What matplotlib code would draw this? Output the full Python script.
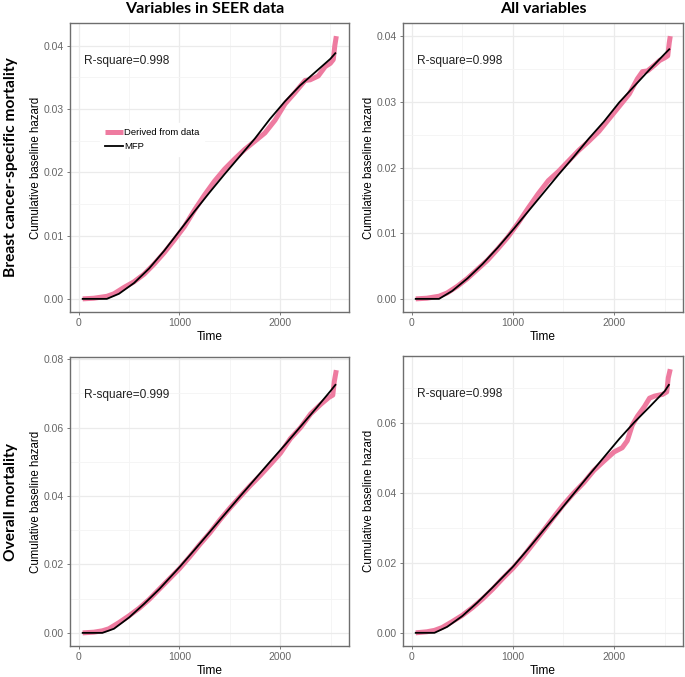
"""
Cumulative baseline hazard: derived from data vs MFP fit, 2x2 panels.
"""
import matplotlib
matplotlib.use("Agg")
import matplotlib.pyplot as plt
from matplotlib.ticker import MultipleLocator, FormatStrFormatter

# ---------------------------------------------------------------------------
# Data
# ---------------------------------------------------------------------------
COL_TITLES = ["Variables in SEER data", "All variables"]
ROW_TITLES = ["Breast cancer-specific mortality", "Overall mortality"]
R_SQUARE   = ["R-square=0.998", "R-square=0.998", "R-square=0.999", "R-square=0.998"]

# breast cancer-specific mortality, SEER variables
bs_fit_t = [40, 280, 400, 550, 700, 850, 1000, 1150, 1300, 1450, 1600, 1750,
            1900, 2050, 2200, 2350, 2500, 2550]
bs_fit_y = [0, 0, 0.0008, 0.0025, 0.0048, 0.0076, 0.0107, 0.0138, 0.0168,
            0.0197, 0.0225, 0.0253, 0.0284, 0.0312, 0.0337, 0.0358, 0.0379, 0.0388]
bs_obs_t = [40, 150, 280, 350, 450, 550, 650, 750, 850, 950, 1050, 1150, 1250,
            1350, 1450, 1550, 1650, 1750, 1850, 1950, 2050, 2150, 2250, 2300,
            2380, 2450, 2500, 2530, 2545, 2560]
bs_obs_y = [0, 0.0001, 0.0004, 0.0008, 0.0018, 0.0027, 0.0039, 0.0055, 0.0073,
            0.0093, 0.0114, 0.0140, 0.0164, 0.0186, 0.0205, 0.0221, 0.0236,
            0.0249, 0.0262, 0.0282, 0.0308, 0.0326, 0.0345, 0.0346, 0.0352,
            0.0367, 0.0372, 0.0378, 0.0400, 0.0415]

# breast cancer-specific mortality, all variables
ba_fit_t = [40, 270, 400, 550, 700, 850, 1000, 1150, 1300, 1450, 1600, 1750,
            1900, 2050, 2200, 2350, 2500, 2545]
ba_fit_y = [0, 0, 0.0012, 0.0031, 0.0053, 0.0078, 0.0105, 0.0133, 0.0161,
            0.0189, 0.0216, 0.0244, 0.0270, 0.0299, 0.0324, 0.0349, 0.0373, 0.0380]
ba_obs_t = [40, 150, 270, 350, 450, 550, 650, 750, 850, 950, 1050, 1150, 1250,
            1350, 1450, 1550, 1650, 1750, 1850, 1950, 2050, 2150, 2230, 2280,
            2330, 2400, 2450, 2500, 2530, 2545, 2555]
ba_obs_y = [0, 0.0001, 0.0004, 0.0009, 0.0019, 0.0031, 0.0045, 0.0059, 0.0076,
            0.0094, 0.0115, 0.0138, 0.0160, 0.0180, 0.0194, 0.0210, 0.0226,
            0.0240, 0.0255, 0.0274, 0.0293, 0.0312, 0.0335, 0.0346, 0.0347,
            0.0356, 0.0363, 0.0367, 0.0370, 0.0390, 0.0400]

# overall mortality, SEER variables
os_fit_t = [40, 235, 350, 500, 650, 800, 1000, 1150, 1300, 1450, 1600, 1750,
            1900, 2050, 2200, 2350, 2500, 2546]
os_fit_y = [0, 0, 0.0012, 0.0045, 0.0085, 0.0128, 0.0192, 0.0243, 0.0295,
            0.0347, 0.0399, 0.0450, 0.0501, 0.0551, 0.0603, 0.0655, 0.0708, 0.0725]
os_obs_t = [40, 150, 235, 300, 400, 500, 600, 700, 800, 900, 1000, 1100, 1200,
            1300, 1400, 1500, 1600, 1700, 1800, 1900, 2000, 2100, 2200, 2300,
            2400, 2480, 2520, 2535, 2555]
os_obs_y = [0, 0.0002, 0.0006, 0.0012, 0.0030, 0.0050, 0.0072, 0.0098, 0.0128,
            0.0158, 0.0188, 0.0222, 0.0258, 0.0292, 0.0330, 0.0365, 0.0398,
            0.0430, 0.0460, 0.0492, 0.0525, 0.0568, 0.0600, 0.0640, 0.0668,
            0.0688, 0.0695, 0.0735, 0.0768]

# overall mortality, all variables
oa_fit_t = [40, 225, 350, 500, 650, 800, 1000, 1150, 1300, 1450, 1600, 1750,
            1900, 2050, 2200, 2350, 2500, 2541]
oa_fit_y = [0, 0, 0.0017, 0.0048, 0.0087, 0.0130, 0.0189, 0.0240, 0.0293,
            0.0345, 0.0398, 0.0451, 0.0503, 0.0555, 0.0603, 0.0647, 0.0692, 0.0710]
oa_obs_t = [40, 150, 225, 300, 400, 500, 600, 700, 800, 900, 1000, 1100, 1200,
            1300, 1400, 1500, 1600, 1700, 1800, 1900, 2000, 2080, 2130, 2180,
            2230, 2300, 2350, 2400, 2480, 2520, 2535, 2555]
oa_obs_y = [0, 0.0003, 0.0007, 0.0015, 0.0032, 0.0050, 0.0072, 0.0097, 0.0125,
            0.0156, 0.0185, 0.0218, 0.0255, 0.0292, 0.0330, 0.0367, 0.0400,
            0.0430, 0.0465, 0.0492, 0.0518, 0.0530, 0.0550, 0.0595, 0.0620,
            0.0648, 0.0672, 0.0678, 0.0683, 0.0690, 0.0730, 0.0755]

PANELS = [
    (bs_obs_t, bs_obs_y, bs_fit_t, bs_fit_y),
    (ba_obs_t, ba_obs_y, ba_fit_t, ba_fit_y),
    (os_obs_t, os_obs_y, os_fit_t, os_fit_y),
    (oa_obs_t, oa_obs_y, oa_fit_t, oa_fit_y),
]
Y_STEP = [0.01, 0.01, 0.02, 0.02]

PINK   = "#EE7BA0"
GRID   = "#EBEBEB"
FRAME  = "#6E6E6E"
TICKC  = "#666666"

# axes boxes in pixels (left, top, right, bottom) on a 685x677 canvas
W, H = 685, 677
BOXES = [(70, 23, 349, 312), (403, 23, 683, 312),
         (70, 357, 349, 646), (403, 356, 683, 646)]

plt.rcParams["font.family"] = ["Liberation Sans", "DejaVu Sans"]

fig = plt.figure(figsize=(W / 100, H / 100), dpi=100)

for i, (obs_t, obs_y, fit_t, fit_y) in enumerate(PANELS):
    l, t, r, b = BOXES[i]
    ax = fig.add_axes([l / W, 1 - b / H, (r - l) / W, (b - t) / H])

    ax.plot(obs_t, obs_y, color=PINK, lw=3.6, solid_capstyle="butt",
            label="Derived from data", zorder=3)
    ax.plot(fit_t, fit_y, color="black", lw=1.3, label="MFP", zorder=4)
    ax.margins(x=0.05, y=0.05)

    ax.xaxis.set_major_locator(MultipleLocator(1000))
    ax.xaxis.set_minor_locator(MultipleLocator(500))
    ax.yaxis.set_major_locator(MultipleLocator(Y_STEP[i]))
    ax.yaxis.set_minor_locator(MultipleLocator(Y_STEP[i] / 2))
    ax.yaxis.set_major_formatter(FormatStrFormatter("%.2f"))
    ax.grid(True, which="major", color=GRID, lw=0.9, zorder=0)
    ax.grid(True, which="minor", color="#F4F4F4", lw=0.6, zorder=0)
    ax.set_axisbelow(True)

    for sp in ax.spines.values():
        sp.set_color(FRAME)
        sp.set_linewidth(1.0)
    ax.tick_params(which="major", length=2.5, width=0.6, color=TICKC,
                   labelsize=7.5, labelcolor=TICKC, pad=2)
    ax.tick_params(which="minor", length=0)

    ax.set_xlabel("Time", fontsize=8.6, labelpad=2)
    ax.set_ylabel("Cumulative baseline hazard", fontsize=8.3, labelpad=1)

    ax.text(0.05, 0.87, R_SQUARE[i], transform=ax.transAxes, fontsize=8.6,
            color="#222222", ha="left", va="center")

    if i == 0:
        leg = ax.legend(loc="upper left", bbox_to_anchor=(0.09, 0.67),
                        fontsize=6.8, frameon=True, handlelength=2.0,
                        handletextpad=0.1, labelspacing=0.6,
                        borderpad=0.5, fancybox=False)
        leg.get_frame().set_facecolor("white")
        leg.get_frame().set_edgecolor("white")
        leg.get_frame().set_alpha(1)

# column and row headings
for txt, cx in zip(COL_TITLES, [205, 543]):
    fig.text(cx / W, 1 - 9 / H, txt, ha="center", va="center", fontsize=11.5,
             fontweight="bold", family=["Lato", "DejaVu Sans"])
for txt, cy in zip(ROW_TITLES, [167, 502]):
    fig.text(11 / W, 1 - cy / H, txt, ha="center", va="center", rotation=90,
             fontsize=11.2, fontweight="bold", family=["Lato", "DejaVu Sans"])

fig.savefig("out.png", dpi=100, facecolor="white")
